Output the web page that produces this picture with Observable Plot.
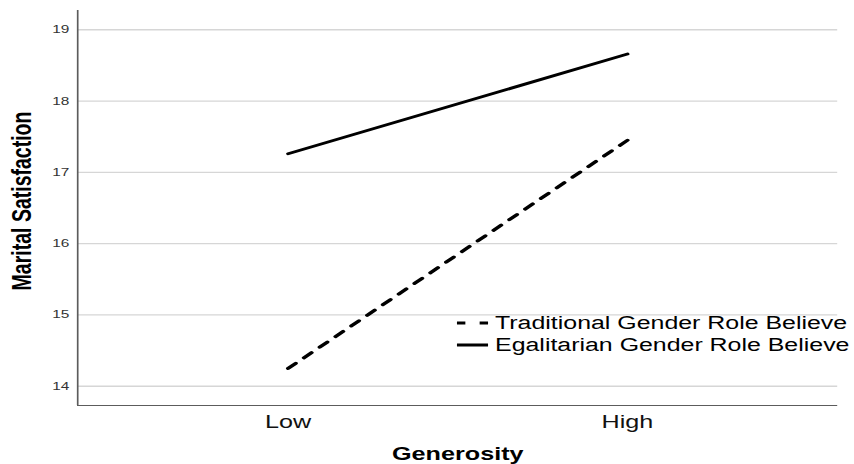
<!DOCTYPE html>
<html>
<head>
<meta charset="utf-8">
<script src="https://cdn.jsdelivr.net/npm/d3@7"></script>
<script src="https://cdn.jsdelivr.net/npm/@observablehq/plot@0.6"></script>
<style>
  html, body { margin: 0; padding: 0; background: #fff; }
  #chart svg { display: block; }
</style>
</head>
<body>
<div id="chart"></div>
<script>
// ---- data ----
const categories = ["Low", "High"];
const seriesNames = ["Traditional Gender Role Believe", "Egalitarian Gender Role Believe"];
const traditional = [14.25, 17.45];
const egalitarian = [17.26, 18.66];
const yTicks = [14, 15, 16, 17, 18, 19];
const yDomain = [13.73, 19.27];
const xDomain = [-0.62, 1.62];

const rows = [];
categories.forEach((c, i) => {
  rows.push({series: seriesNames[0], idx: i, value: traditional[i]});
  rows.push({series: seriesNames[1], idx: i, value: egalitarian[i]});
});

// The reference is horizontally stretched (about 1.4x); draw narrower, then stretch.
const STRETCH = 1.4;
const W = 854 / STRETCH;
const H = 464;

const font = "'Liberation Sans', Arial, Helvetica, sans-serif";

const plot = Plot.plot({
  width: W,
  height: H,
  marginLeft: 55,
  marginRight: W - 598,
  marginTop: 10,
  marginBottom: 59,
  style: {fontFamily: font, background: "#fff", color: "#222"},
  x: {type: "linear", domain: xDomain, axis: null},
  y: {domain: yDomain, axis: null},
  marks: [
    Plot.gridY(yTicks, {stroke: "#d6d6d6", strokeOpacity: 1, strokeWidth: 1.3}),
    Plot.axisY(yTicks, {tickSize: 0, tickPadding: 6, fontSize: 11, fill: "#333", label: null,
      tickFormat: d => String(d)}),
    Plot.axisX([0, 1], {tickSize: 0, tickPadding: 10, fontSize: 18, fill: "#111",
      tickFormat: i => categories[i], label: null}),
    Plot.ruleX([xDomain[0]], {stroke: "#5c5c5c", strokeWidth: 1.2}),
    Plot.ruleY([yDomain[0]], {stroke: "#5c5c5c", strokeWidth: 1.2}),
    Plot.line(rows.filter(d => d.series === seriesNames[1]), {
      x: "idx", y: "value", stroke: "#000", strokeWidth: 2.8
    }),
    Plot.line(rows.filter(d => d.series === seriesNames[0]), {
      x: "idx", y: "value", stroke: "#000", strokeWidth: 3, strokeDasharray: "7.5,8"
    }),
    Plot.text(["Marital Satisfaction"], {
      frameAnchor: "left", textAnchor: "middle", rotate: -90, dx: -39.5, dy: -7,
      fontSize: 19.5, fontWeight: "bold", fill: "#000"
    }),
    Plot.text(["Generosity"], {
      frameAnchor: "bottom", lineAnchor: "top", dy: 42, fontSize: 18, fontWeight: "bold", fill: "#000"
    })
  ]
});

// legend inside the plot area
const svg = d3.select(plot);
const lg = svg.append("g")
  .attr("font-family", font)
  .attr("font-size", 17.8)
  .attr("text-anchor", "start");
const legendRows = [
  {name: seriesNames[0], dash: "6,10.2,6", y: 323},
  {name: seriesNames[1], dash: null, y: 345}
];
legendRows.forEach(r => {
  const ln = lg.append("line")
    .attr("x1", 326.4).attr("x2", 348.6)
    .attr("y1", r.y).attr("y2", r.y)
    .attr("stroke", "#000").attr("stroke-width", 2.8);
  if (r.dash) ln.attr("stroke-dasharray", r.dash);
  lg.append("text")
    .attr("x", 353.6).attr("y", r.y + 6.5)
    .attr("text-anchor", "start")
    .attr("fill", "#000")
    .text(r.name);
});

// stretch horizontally to the reference size
plot.setAttribute("viewBox", `0 0 ${W} ${H}`);
plot.setAttribute("preserveAspectRatio", "none");
plot.setAttribute("width", 854);
plot.setAttribute("height", 464);
plot.style.width = "854px";
plot.style.height = "464px";
plot.style.maxWidth = "none";

document.getElementById("chart").appendChild(plot);
</script>
</body>
</html>
